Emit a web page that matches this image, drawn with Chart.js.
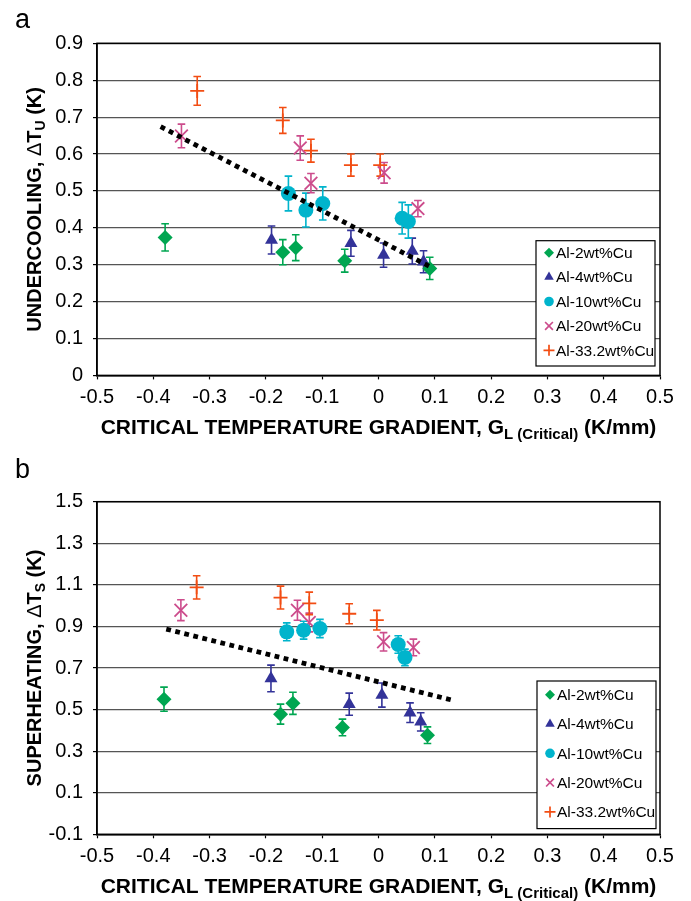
<!DOCTYPE html>
<html><head><meta charset="utf-8">
<script src="https://cdn.jsdelivr.net/npm/chart.js@4"></script>
<style>
html,body{margin:0;padding:0;background:#fff;}
#wrap{position:relative;width:691px;height:901px;overflow:hidden;}
canvas{position:absolute;left:0;}
</style></head><body>
<div id="wrap">
<canvas id="ca" width="691" height="450" style="top:0;width:691px;height:450px"></canvas>
<canvas id="cb" width="691" height="451" style="top:450px;width:691px;height:451px"></canvas>
</div>
<script>
// ---------- data ----------
const seriesNames = ['Al-2wt%Cu','Al-4wt%Cu','Al-10wt%Cu','Al-20wt%Cu','Al-33.2wt%Cu'];

const xTickValues = [-0.5,-0.4,-0.3,-0.2,-0.1,0,0.1,0.2,0.3,0.4,0.5];
const xTickLabels = ['-0.5','-0.4','-0.3','-0.2','-0.1','0','0.1','0.2','0.3','0.4','0.5'];
const yTickValuesA = [0,0.1,0.2,0.3,0.4,0.5,0.6,0.7,0.8,0.9];
const yTickLabelsA = ['0','0.1','0.2','0.3','0.4','0.5','0.6','0.7','0.8','0.9'];
const yTickValuesB = [-0.1,0.1,0.3,0.5,0.7,0.9,1.1,1.3,1.5];
const yTickLabelsB = ['-0.1','0.1','0.3','0.5','0.7','0.9','1.1','1.3','1.5'];

// Panel a: undercooling
const a_al2_x   = [-0.379,-0.170,-0.147,-0.060,0.091];
const a_al2_y   = [0.374,0.334,0.346,0.311,0.290];
const a_al2_err = [0.037,0.034,0.035,0.031,0.030];
const a_al4_x   = [-0.190,-0.049,0.009,0.060,0.080];
const a_al4_y   = [0.367,0.358,0.326,0.337,0.308];
const a_al4_err = [0.038,0.035,0.033,0.035,0.030];
const a_al10_x   = [-0.160,-0.129,-0.099,0.042,0.053];
const a_al10_y   = [0.493,0.448,0.466,0.426,0.417];
const a_al10_err = [0.047,0.046,0.045,0.043,0.045];
const a_al20_x   = [-0.350,-0.139,-0.120,0.010,0.070];
const a_al20_y   = [0.649,0.616,0.521,0.549,0.452];
const a_al20_err = [0.032,0.033,0.026,0.028,0.022];
const a_al33_x   = [-0.322,-0.170,-0.120,-0.049,0.003];
const a_al33_y   = [0.771,0.691,0.609,0.570,0.570];
const a_al33_err = [0.039,0.035,0.031,0.030,0.030];
const a_trend_x = [-0.387,0.091];
const a_trend_y = [0.674,0.295];

// Panel b: superheating
const b_al2_x   = [-0.381,-0.174,-0.152,-0.064,0.087];
const b_al2_y   = [0.550,0.478,0.530,0.414,0.377];
const b_al2_err = [0.058,0.048,0.053,0.040,0.040];
const b_al4_x   = [-0.191,-0.052,0.006,0.056,0.075];
const b_al4_y   = [0.650,0.526,0.570,0.485,0.441];
const b_al4_err = [0.064,0.053,0.058,0.047,0.044];
const b_al10_x   = [-0.163,-0.133,-0.104,0.035,0.047];
const b_al10_y   = [0.874,0.882,0.890,0.813,0.751];
const b_al10_err = [0.043,0.043,0.044,0.042,0.040];
const b_al20_x   = [-0.351,-0.144,-0.123,0.009,0.062];
const b_al20_y   = [0.978,0.978,0.919,0.826,0.799];
const b_al20_err = [0.050,0.048,0.045,0.044,0.040];
const b_al33_x   = [-0.323,-0.174,-0.123,-0.052,-0.003];
const b_al33_y   = [1.088,1.039,1.011,0.961,0.930];
const b_al33_err = [0.056,0.055,0.054,0.048,0.047];
const b_trend_x = [-0.377,0.130];
const b_trend_y = [0.887,0.546];

// ---------- styling ----------
const FONT = '"Liberation Sans", Arial, Helvetica, sans-serif';
const COLORS = ['#00A651','#333399','#00B4CC','#CC4C8C','#F24D13'];
const STYLES = ['rectRot','triangle','circle','crossRot','cross'];
const RADII  = [7.5,7.5,7.5,9,7];

function pts(xs, ys){ return xs.map((x,i)=>({x:x, y:ys[i]})); }

function drawMarker(ctx, style, x, y, r, color, lw){
  ctx.save();
  ctx.fillStyle = color; ctx.strokeStyle = color; ctx.lineWidth = lw;
  ctx.beginPath();
  if(style==='rectRot'){ ctx.moveTo(x,y-r); ctx.lineTo(x+r,y); ctx.lineTo(x,y+r); ctx.lineTo(x-r,y); ctx.closePath(); ctx.fill(); }
  else if(style==='triangle'){ ctx.moveTo(x,y-r); ctx.lineTo(x+r*0.866,y+r*0.5); ctx.lineTo(x-r*0.866,y+r*0.5); ctx.closePath(); ctx.fill(); }
  else if(style==='circle'){ ctx.arc(x,y,r,0,Math.PI*2); ctx.fill(); }
  else if(style==='crossRot'){ const d=r*0.707; ctx.moveTo(x-d,y-d); ctx.lineTo(x+d,y+d); ctx.moveTo(x+d,y-d); ctx.lineTo(x-d,y+d); ctx.stroke(); }
  else if(style==='cross'){ ctx.moveTo(x-r,y); ctx.lineTo(x+r,y); ctx.moveTo(x,y-r); ctx.lineTo(x,y+r); ctx.stroke(); }
  ctx.restore();
}

function drawPieces(ctx, pieces, x, y, align){
  let total = 0;
  pieces.forEach(p=>{ ctx.font = (p.bold?'bold ':'') + p.size + 'px ' + FONT; p.w = ctx.measureText(p.t).width; total += p.w; });
  let cx = align==='center' ? x - total/2 : x;
  pieces.forEach(p=>{
    ctx.font = (p.bold?'bold ':'') + p.size + 'px ' + FONT;
    ctx.fillText(p.t, cx, y + (p.dy||0));
    cx += p.w;
  });
}

const errorBars = {
  id:'errorBars',
  beforeDatasetsDraw(chart){
    const ctx = chart.ctx, ys = chart.scales.y, a = chart.chartArea;
    ctx.save();
    ctx.strokeStyle = '#000'; ctx.lineWidth = 1.5;
    ctx.strokeRect(a.left, a.top, a.right-a.left, a.bottom-a.top);
    ctx.restore();
    chart.data.datasets.forEach((ds,i)=>{
      if(!ds.errors) return;
      const meta = chart.getDatasetMeta(i);
      ctx.save();
      ctx.strokeStyle = ds.borderColor; ctx.lineWidth = 1.6;
      meta.data.forEach((pt,j)=>{
        const v = ds.data[j].y, e = ds.errors[j];
        const x = pt.x, y1 = ys.getPixelForValue(v+e), y2 = ys.getPixelForValue(v-e);
        ctx.beginPath();
        ctx.moveTo(x,y1); ctx.lineTo(x,y2);
        ctx.moveTo(x-3.8,y1); ctx.lineTo(x+3.8,y1);
        ctx.moveTo(x-3.8,y2); ctx.lineTo(x+3.8,y2);
        ctx.stroke();
      });
      ctx.restore();
    });
  }
};

const annotations = {
  id:'annotations',
  afterDraw(chart){
    const o = chart.options.plugins.annotations;
    const ctx = chart.ctx, a = chart.chartArea;
    ctx.save();
    ctx.fillStyle = '#000';
    ctx.textBaseline = 'alphabetic';
    ctx.textAlign = 'left';
    ctx.font = '27px ' + FONT;
    ctx.fillText(o.letter, 15, o.letterY);
    drawPieces(ctx, [
      {t:'CRITICAL TEMPERATURE GRADIENT, G', size:21, bold:true},
      {t:'L (Critical)', size:15, bold:true, dy:5},
      {t:' (K/mm)', size:21, bold:true}
    ], (a.left+a.right)/2, a.bottom + 58.6, 'center');
    ctx.save();
    ctx.translate(40.5, (a.top+a.bottom)/2);
    ctx.rotate(-Math.PI/2);
    drawPieces(ctx, [
      {t:o.yTitle, size:20, bold:true},
      {t:'\u0394', size:20, bold:false},
      {t:'T', size:20, bold:true},
      {t:o.ySub, size:14, bold:true, dy:4},
      {t:' (K)', size:20, bold:true}
    ], 0, 0, 'center');
    ctx.restore();
    const L = o.legend;
    ctx.fillStyle = '#fff';
    ctx.fillRect(L.x, L.y, L.w, L.h);
    ctx.strokeStyle = '#000'; ctx.lineWidth = 1.2;
    ctx.strokeRect(L.x, L.y, L.w, L.h);
    ctx.font = '15.5px ' + FONT;
    ctx.textBaseline = 'middle';
    seriesNames.forEach((name,i)=>{
      const yy = L.y + L.first + i*L.step;
      drawMarker(ctx, STYLES[i], L.x+13, yy, [5,5.5,4.8,5.5,5.5][i], COLORS[i], 1.7);
      ctx.fillStyle = '#000';
      ctx.fillText(name, L.x+20, yy+1);
    });
    ctx.restore();
  }
};

function makeChart(id, p){
  const datasets = [{
    type:'line', label:'trend', data: pts(p.trendX, p.trendY),
    borderColor:'#000', borderWidth:4.8, borderDash:[4.8,4.5], borderCapStyle:'butt',
    pointRadius:0, fill:false, showLine:true, order:-1
  }];
  p.series.forEach((s,i)=>{
    datasets.push({
      type:'scatter', label: seriesNames[i], data: pts(s[0], s[1]), errors: s[2],
      pointStyle: STYLES[i], pointRadius: RADII[i], pointHoverRadius: RADII[i],
      backgroundColor: COLORS[i], borderColor: COLORS[i],
      pointBorderWidth: (i>=3)?1.8:0, showLine:false
    });
  });
  return new Chart(document.getElementById(id), {
    data:{ datasets },
    options:{
      responsive:false, animation:false, events:[],
      layout:{ padding:{ top:p.top, right:31, left:0, bottom:0 } },
      plugins:{
        legend:{display:false}, tooltip:{enabled:false},
        annotations:{ letter:p.letter, letterY:p.letterY, yTitle:p.yTitle, ySub:p.ySub, legend:p.legend }
      },
      scales:{
        x:{
          type:'linear', position:'bottom', min:-0.5, max:0.5,
          afterFit(s){ s.height = p.xHeight; },
          afterBuildTicks(s){ s.ticks = xTickValues.map(v=>({value:v})); },
          ticks:{ callback:(v,i)=>xTickLabels[i], color:'#000', font:{family:FONT, size:20}, padding:6, maxRotation:0, autoSkip:false },
          grid:{ drawOnChartArea:false, drawTicks:true, tickLength:4, tickColor:'#000', tickWidth:1.2 },
          border:{ display:true, color:'#000', width:1.5 }
        },
        y:{
          type:'linear', position:'left', min:p.yMin, max:p.yMax,
          afterFit(s){ s.width = 97; },
          afterBuildTicks(s){ s.ticks = p.yTicks.map(v=>({value:v})); },
          ticks:{ callback:(v,i)=>p.yLabels[i], color:'#000', font:{family:FONT, size:20}, padding:10, autoSkip:false },
          grid:{ color:'#555', lineWidth:1.2, drawTicks:true, tickLength:4, tickColor:'#000', tickWidth:1.2 },
          border:{ display:true, color:'#000', width:1.5 }
        }
      }
    },
    plugins:[errorBars, annotations]
  });
}

makeChart('ca', {
  top:43.3, xHeight:450-375.4, yMin:0, yMax:0.9, yTicks:yTickValuesA, yLabels:yTickLabelsA,
  letter:'a', letterY:28, yTitle:'UNDERCOOLING, ', ySub:'U',
  trendX:a_trend_x, trendY:a_trend_y,
  series:[[a_al2_x,a_al2_y,a_al2_err],[a_al4_x,a_al4_y,a_al4_err],[a_al10_x,a_al10_y,a_al10_err],[a_al20_x,a_al20_y,a_al20_err],[a_al33_x,a_al33_y,a_al33_err]],
  legend:{x:536, y:240.7, w:119, h:125.3, first:12, step:24.4}
});
makeChart('cb', {
  top:51.7, xHeight:451-384.3, yMin:-0.1, yMax:1.5, yTicks:yTickValuesB, yLabels:yTickLabelsB,
  letter:'b', letterY:28.3, yTitle:'SUPERHEATING, ', ySub:'S',
  trendX:b_trend_x, trendY:b_trend_y,
  series:[[b_al2_x,b_al2_y,b_al2_err],[b_al4_x,b_al4_y,b_al4_err],[b_al10_x,b_al10_y,b_al10_err],[b_al20_x,b_al20_y,b_al20_err],[b_al33_x,b_al33_y,b_al33_err]],
  legend:{x:537, y:231, w:119, h:147.6, first:13.7, step:29.3}
});
</script>
</body></html>
